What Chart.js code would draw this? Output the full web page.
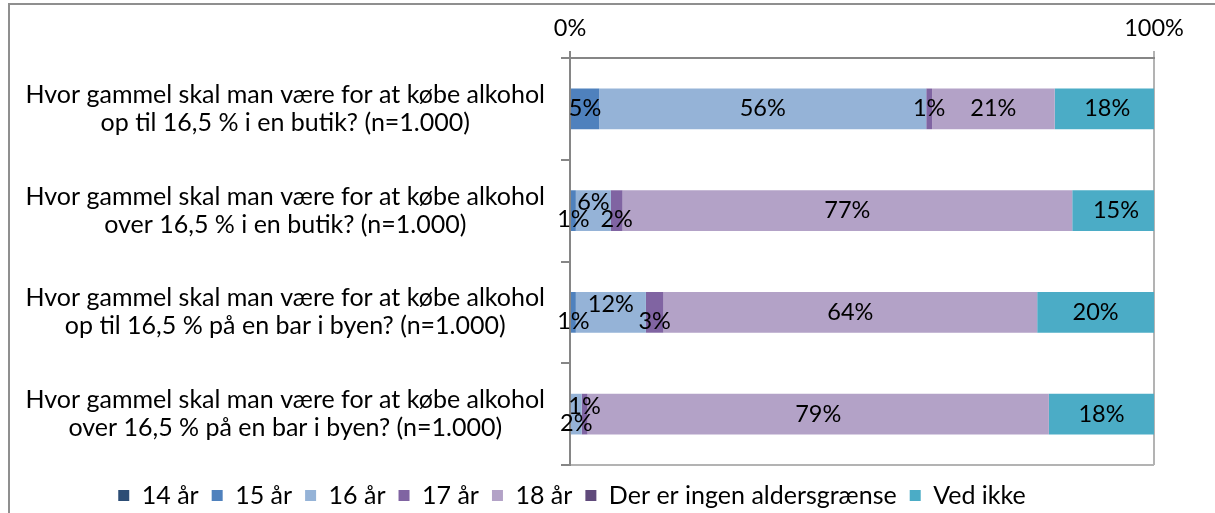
<!DOCTYPE html>
<html><head><meta charset="utf-8">
<script src="https://cdn.jsdelivr.net/npm/chart.js@4"></script>
<style>
html,body{margin:0;padding:0;background:#fff;overflow:hidden;width:1215px;height:513px}
#frame{position:absolute;left:8px;top:3px;width:1400px;height:700px;border:2px solid #8f8f8f;box-sizing:border-box}
#wrap{position:absolute;left:0;top:0;width:1215px;height:513px}
</style></head><body>
<div id="frame"></div>
<div id="wrap"><canvas id="c" width="1215" height="513"></canvas></div>
<script>
const categories = [
  ["Hvor gammel skal man være for at købe alkohol", "op til 16,5 % i en butik? (n=1.000)"],
  ["Hvor gammel skal man være for at købe alkohol", "over 16,5 % i en butik? (n=1.000)"],
  ["Hvor gammel skal man være for at købe alkohol", "op til 16,5 % på en bar i byen? (n=1.000)"],
  ["Hvor gammel skal man være for at købe alkohol", "over 16,5 % på en bar i byen? (n=1.000)"]
];
const seriesNames = ["14 år", "15 år", "16 år", "17 år", "18 år", "Der er ingen aldersgrænse", "Ved ikke"];
const v14 = [0, 0, 0, 0];
const v15 = [5, 1, 1, 0];
const v16 = [56, 6, 12, 2];
const v17 = [1, 2, 3, 1];
const v18 = [21, 77, 64, 79];
const vIngen = [0, 0, 0, 0];
const vVedIkke = [18, 15, 20, 18];
const xTickValues = [0, 100];
const seriesColors = ["#2C4D75", "#4F81BD", "#95B3D7", "#8064A2", "#B3A2C7", "#604A7B", "#4BACC6"];

const FONT = 'Lato';
const seriesValues = [v14, v15, v16, v17, v18, vIngen, vVedIkke];

const datasets = seriesNames.map((name, i) => ({
  label: name,
  data: seriesValues[i],
  backgroundColor: seriesColors[i],
  borderWidth: 0,
  clip: 0,
  barPercentage: 0.4,
  categoryPercentage: 1.0
}));

const segLabels = {
  id: 'segLabels',
  afterDatasetsDraw(chart) {
    const ctx = chart.ctx;
    ctx.save();
    ctx.font = '23.5px ' + FONT;
    ctx.fillStyle = '#000';
    ctx.textAlign = 'center';
    ctx.textBaseline = 'middle';
    const margin = 14;
    chart.data.labels.forEach((_, i) => {
      const items = [];
      chart.data.datasets.forEach((ds, di) => {
        const v = ds.data[i];
        if (!v) return;
        const el = chart.getDatasetMeta(di).data[i];
        const cx = (el.x + el.base) / 2;
        const text = v + '%';
        const w = ctx.measureText(text).width;
        items.push({cx, y: el.y, text, w, off: 0});
      });
      let group = [];
      const flush = () => {
        if (group.length > 1) {
          group.forEach((it, k) => { it.off = (k % 2 === 0) ? 9 : -8; });
        }
        group = [];
      };
      items.forEach((it) => {
        if (group.length) {
          const p = group[group.length - 1];
          if (p.cx + p.w / 2 + margin > it.cx - it.w / 2) { group.push(it); return; }
          flush();
        }
        group.push(it);
      });
      flush();
      items.forEach(it => ctx.fillText(it.text, it.cx, it.y + it.off));
    });
    ctx.restore();
  }
};

const legendShift = {
  id: 'legendShift',
  afterLayout(chart) {
    const lg = chart.legend;
    if (lg) { lg.left -= 5; lg.right -= 5; lg.top += 5; lg.bottom += 5; }
  }
};

new Chart(document.getElementById('c'), {
  type: 'bar',
  data: { labels: categories, datasets },
  plugins: [segLabels, legendShift],
  options: {
    indexAxis: 'y',
    responsive: false,
    animation: false,
    layout: { padding: { left: 0, right: 61, top: 0, bottom: 0 } },
    plugins: {
      tooltip: { enabled: false },
      title: { display: false },
      legend: {
        position: 'bottom',
        labels: {
          boxWidth: 11, boxHeight: 11, padding: 13,
          color: '#000',
          font: { family: FONT, size: 25 }
        }
      }
    },
    scales: {
      x: {
        position: 'top',
        stacked: true,
        min: 0, max: 100,
        afterBuildTicks: (s) => { s.ticks = xTickValues.map(v => ({value: v})); },
        afterFit: (s) => { s.height = 58; },
        ticks: {
          callback: (v) => v + '%',
          color: '#000',
          padding: 8,
          maxRotation: 0,
          font: { family: FONT, size: 23.5 }
        },
        grid: {
          drawOnChartArea: true,
          drawTicks: true,
          tickLength: 7,
          lineWidth: 2,
          tickColor: (c) => (c.tick && c.tick.value === 100) ? '#b3b3b3' : '#868686',
          color: (c) => (c.tick && c.tick.value === 100) ? '#b3b3b3' : 'rgba(0,0,0,0)'
        },
        border: { display: true, color: '#868686', width: 2 }
      },
      y: {
        stacked: true,
        afterFit: (s) => { s.width = 570; },
        ticks: {
          crossAlign: 'center',
          color: '#000',
          padding: 16,
          font: { family: FONT, size: 25, lineHeight: 1.12 }
        },
        grid: {
          offset: true,
          drawOnChartArea: true,
          drawTicks: true,
          tickLength: 9,
          lineWidth: 2,
          tickColor: '#868686',
          color: (c) => c.type === 'tick' ? 'rgba(0,0,0,0)' : '#b3b3b3'
        },
        border: { display: true, color: '#868686', width: 2 }
      }
    }
  }
});
</script>
</body></html>
